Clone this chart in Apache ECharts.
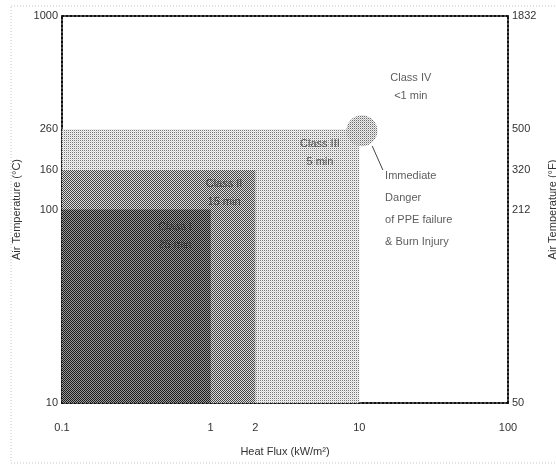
<!DOCTYPE html>
<html>
<head>
<meta charset="utf-8">
<script src="https://cdn.jsdelivr.net/npm/echarts@6/dist/echarts.min.js"></script>
<style>html,body{margin:0;padding:0;background:#fff}#chart{width:556px;height:465px}</style>
</head>
<body>
<div id="chart"></div>
<script>
// ---- data ----
const classNames = ['Class I', 'Class II', 'Class III', 'Class IV'];
const classTimes = ['25 min', '15 min', '5 min', '<1 min'];
const heatFluxLimits = [1, 2, 10];        // kW/m², upper heat flux of Class I..III
const tempLimits = [100, 160, 260];       // °C, upper temperature of Class I..III
const xTicks = [0.1, 1, 2, 10, 100];
const yTicks = [10, 100, 160, 260, 1000];
const fTicks = [50, 212, 320, 500, 1832];
const dangerPoint = [10.4, 255];          // circled corner of Class III
const dangerText = ['Immediate', 'Danger', 'of PPE failure', '& Burn Injury'];
const xMin = 0.1, xMax = 100, yMin = 10, yMax = 1000;

// ---- styles ----
function makePattern(w, h, cells) {
  const c = document.createElement('canvas');
  c.width = w; c.height = h;
  const ctx = c.getContext('2d');
  for (let y = 0; y < h; y++) for (let x = 0; x < w; x++) {
    ctx.fillStyle = cells[y][x];
    ctx.fillRect(x, y, 1, 1);
  }
  return { image: c, repeat: 'repeat' };
}
const patI = makePattern(2, 2, [['#1a1a1a', '#9a9a9a'], ['#9a9a9a', '#1a1a1a']]);
const patII = makePattern(2, 2, [['#444', '#dcdcdc'], ['#dcdcdc', '#444']]);
const patIII = makePattern(2, 2, [['#777', '#f2f2f2'], ['#f2f2f2', '#d8d8d8']]);
const patCircle = makePattern(2, 2, [['#6a6a6a', '#eeeeee'], ['#eeeeee', '#b8b8b8']]);
const classPatterns = [patI, patII, patIII];

const textColor = '#333';
const font = 'Liberation Sans, Arial, sans-serif';
const axisLineStyle = { color: '#111', width: 2, type: [2, 2] };

// rectangles: Class III drawn first, then II, then I
const rects = [2, 1, 0].map(i => [xMin, heatFluxLimits[i], yMin, tempLimits[i], i]);

const annotations = [
  { value: [0.575, 73], text: classNames[0] + '\n' + classTimes[0] },
  { value: [1.23, 122], text: classNames[1] + '\n' + classTimes[1] },
  { value: [5.43, 196], text: classNames[2] + '\n' + classTimes[2] },
  { value: [22.2, 430], text: classNames[3] + '\n' + classTimes[3] }
];

const chart = echarts.init(document.getElementById('chart'));
chart.setOption({
  animation: false,
  backgroundColor: '#fff',
  textStyle: { fontFamily: font },
  grid: { left: 62, right: 48, top: 16, bottom: 62, containLabel: false, outerBoundsMode: 'none' },
  xAxis: [{
    type: 'log', min: xMin, max: xMax, position: 'bottom',
    name: 'Heat Flux (kW/m²)', nameLocation: 'middle', nameGap: 43,
    nameTextStyle: { color: textColor, fontSize: 11, fontFamily: font },
    axisLine: { show: true, lineStyle: axisLineStyle },
    axisTick: { show: false },
    splitLine: { show: false }, minorSplitLine: { show: false },
    axisLabel: { customValues: xTicks, color: textColor, fontSize: 11, margin: 19,
      formatter: v => String(v) }
  }, {
    type: 'log', min: xMin, max: xMax, position: 'top',
    axisLine: { show: true, lineStyle: axisLineStyle },
    axisTick: { show: false }, axisLabel: { show: false }, splitLine: { show: false }
  }],
  yAxis: [{
    type: 'log', min: yMin, max: yMax, position: 'left',
    name: 'Air Temperature (°C)', nameLocation: 'middle', nameGap: 36,
    nameTextStyle: { color: textColor, fontSize: 11, fontFamily: font },
    axisLine: { show: true, lineStyle: axisLineStyle },
    axisTick: { show: false },
    splitLine: { show: false },
    axisLabel: { customValues: yTicks, color: textColor, fontSize: 11, margin: 4,
      formatter: v => String(v) }
  }, {
    type: 'log', min: yMin, max: yMax, position: 'right',
    name: 'Air Temperature (°F)', nameLocation: 'middle', nameGap: 36,
    nameTextStyle: { color: textColor, fontSize: 11, fontFamily: font },
    axisLine: { show: true, lineStyle: axisLineStyle },
    axisTick: { show: false },
    splitLine: { show: false },
    axisLabel: { customValues: yTicks, color: textColor, fontSize: 11, margin: 4,
      formatter: v => String(fTicks[yTicks.indexOf(+v)]) }
  }],
  graphic: [{
    type: 'rect', z: -1, silent: true,
    shape: { x: 11, y: 6, width: 600, height: 457 },
    style: { fill: 'none', stroke: '#c4c4c4', lineWidth: 1, lineDash: [1, 2] }
  }],
  series: [{
    type: 'custom',
    coordinateSystem: 'cartesian2d',
    encode: { x: [0, 1], y: [2, 3] },
    data: rects,
    renderItem: function (params, api) {
      const p0 = api.coord([api.value(0), api.value(2)]);
      const p1 = api.coord([api.value(1), api.value(3)]);
      const idx = api.value(4);
      return {
        type: 'rect',
        shape: { x: p0[0], y: p1[1], width: p1[0] - p0[0], height: p0[1] - p1[1] },
        style: { fill: classPatterns[idx] }
      };
    },
    z: 1
  }, {
    type: 'custom',
    coordinateSystem: 'cartesian2d',
    data: [dangerPoint],
    renderItem: function (params, api) {
      const c = api.coord([api.value(0), api.value(1)]);
      return {
        type: 'circle',
        shape: { cx: c[0], cy: c[1], r: 15.5 },
        style: { fill: patCircle }
      };
    },
    z: 2
  }, {
    type: 'scatter',
    data: [],
    markLine: {
      silent: true,
      symbol: ['none', 'arrow'], symbolSize: [0, 6],
      label: { show: false },
      lineStyle: { color: '#444', width: 1, type: 'solid' },
      data: [[{ coord: [14.4, 160] }, { coord: [12.2, 213] }]]
    }
  }, {
    type: 'scatter',
    data: annotations.map(a => ({ value: a.value, name: a.text })),
    symbolSize: 0,
    z: 5,
    label: {
      show: true, position: 'inside', formatter: p => p.name,
      color: textColor, fontSize: 11, lineHeight: 18, align: 'center', verticalAlign: 'middle'
    }
  }, {
    type: 'scatter',
    data: [{ value: [14.9, 100.7], name: dangerText.join('\n') }],
    symbolSize: 0,
    z: 5,
    label: {
      show: true, position: 'inside', formatter: p => p.name,
      color: textColor, fontSize: 11, lineHeight: 22, align: 'left', verticalAlign: 'middle'
    }
  }]
});
</script>
</body>
</html>
